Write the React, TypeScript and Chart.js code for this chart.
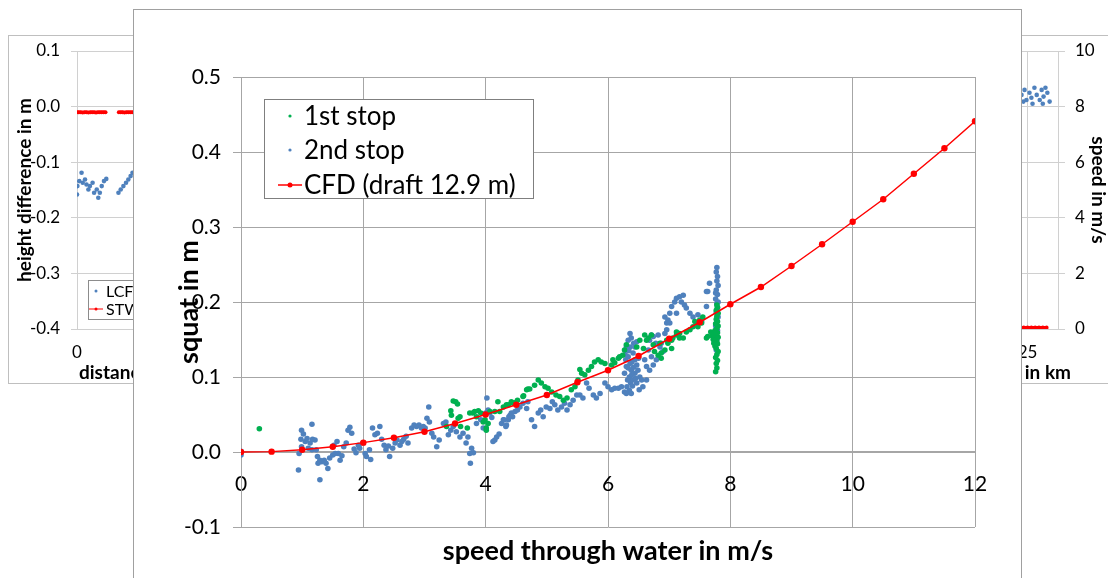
import React, { useEffect, useRef } from "react";
import { Chart, registerables } from "chart.js";
Chart.register(...registerables);

const FONT = "Lato, 'Liberation Sans', sans-serif";
const GREEN = "#00b050";
const BLUE = "#4f81bd";
const RED = "#ff0000";
const FG_GRID = "#a6a6a6";
const BG_GRID = "#d0d0d0";

// ---------- foreground chart data (speed through water in m/s, squat in m) ----------
const cfdSpeed = [0, 0.5, 1, 1.5, 2, 2.5, 3, 3.5, 4, 4.5, 5, 5.5, 6, 6.5, 7, 7.5, 8, 8.5, 9, 9.5, 10, 10.5, 11, 11.5, 12];
const cfdSquat = [0, 0.0005, 0.003, 0.007, 0.0125, 0.019, 0.027, 0.038, 0.05, 0.063, 0.076, 0.093, 0.109, 0.128, 0.151, 0.173, 0.197, 0.22, 0.248, 0.277, 0.307, 0.337, 0.371, 0.405, 0.441];

const stop1Points: [number, number][] = [
  [0.30, 0.031],
  [3.36, 0.034], [3.43, 0.055], [3.44, 0.049], [3.47, 0.068], [3.51, 0.067], [3.54, 0.064], [3.55, 0.045], [3.58, 0.047], [3.59, 0.034],
  [3.70, 0.032], [3.74, 0.052], [3.79, 0.052], [3.82, 0.054], [3.85, 0.047], [3.88, 0.055], [3.92, 0.052], [3.99, 0.043], [4.01, 0.032],
  [4.04, 0.038], [4.15, 0.054], [4.20, 0.067], [4.23, 0.054], [4.29, 0.060], [4.34, 0.063], [4.42, 0.067], [4.49, 0.066], [4.52, 0.069],
  [4.62, 0.075], [4.69, 0.084], [3.96, 0.040], [4.01, 0.029], [4.07, 0.054], [4.37, 0.063], [4.45, 0.065], [4.61, 0.074], [4.67, 0.083],
  [4.72, 0.084], [4.80, 0.089], [4.86, 0.096], [4.91, 0.092], [4.97, 0.087], [5.02, 0.085], [5.08, 0.080], [5.15, 0.076], [5.21, 0.074],
  [5.27, 0.069], [5.33, 0.072], [5.40, 0.083], [5.46, 0.087], [5.51, 0.096], [5.54, 0.110], [5.57, 0.105], [5.62, 0.103], [5.68, 0.109],
  [5.73, 0.114], [5.78, 0.120], [5.84, 0.123], [5.89, 0.120], [5.95, 0.118], [6.06, 0.116], [6.11, 0.119], [6.17, 0.125], [6.24, 0.129],
  [6.27, 0.136], [6.30, 0.143], [6.47, 0.140], [6.52, 0.149], [6.60, 0.156], [6.66, 0.152], [6.74, 0.143], [6.76, 0.134], [6.82, 0.129],
  [6.87, 0.125], [6.93, 0.136], [6.98, 0.145], [7.04, 0.138], [7.06, 0.152], [7.12, 0.156], [7.17, 0.158], [7.23, 0.152], [7.28, 0.160],
  [7.34, 0.163], [7.39, 0.167], [7.45, 0.172], [7.50, 0.176], [7.55, 0.180],
  [6.08, 0.123], [6.19, 0.127], [6.58, 0.138], [6.63, 0.149], [6.71, 0.156], [6.85, 0.145], [6.87, 0.132], [6.96, 0.149], [7.04, 0.149],
  [7.12, 0.160], [7.17, 0.152], [7.42, 0.174], [7.47, 0.167], [7.53, 0.172], [7.61, 0.152], [7.63, 0.154],
  [7.76, 0.107], [7.78, 0.112], [7.77, 0.118], [7.79, 0.122], [7.76, 0.126], [7.78, 0.130], [7.80, 0.134], [7.77, 0.138], [7.75, 0.141],
  [7.79, 0.144], [7.78, 0.147], [7.76, 0.150], [7.80, 0.153], [7.77, 0.156], [7.79, 0.159], [7.75, 0.162], [7.78, 0.165], [7.80, 0.168],
  [7.76, 0.171], [7.79, 0.174], [7.77, 0.177], [7.78, 0.181], [7.80, 0.185], [7.77, 0.189], [7.79, 0.193], [7.78, 0.196], [7.72, 0.150],
  [7.70, 0.155], [7.68, 0.160], [7.73, 0.145], [7.74, 0.158],
];

const stop2Points: [number, number][] = [
  [0.00, -0.004], [0.00, 0.001],
  [0.99, 0.029], [1.02, 0.024], [0.98, 0.017], [1.05, 0.014], [0.99, 0.007], [0.95, -0.002], [0.94, -0.024], [1.08, 0.018], [1.13, 0.012],
  [1.16, 0.037], [1.17, 0.017], [1.21, 0.016], [1.10, 0.005], [1.16, 0.003], [1.23, 0.003], [1.25, -0.006], [1.29, -0.011], [1.26, -0.015],
  [1.32, -0.013], [1.36, -0.011], [1.39, -0.015], [1.42, -0.022], [1.45, -0.008], [1.50, -0.004], [1.54, -0.002], [1.52, 0.009], [1.57, 0.014],
  [1.59, -0.002], [1.62, -0.011], [1.65, -0.005], [1.68, 0.007], [1.72, 0.012], [1.75, 0.029], [1.78, 0.033], [1.81, 0.025], [1.85, 0.004],
  [1.88, -0.001], [1.92, 0.009], [1.94, 0.005], [1.99, 0.012], [2.03, -0.002], [2.05, -0.006], [2.10, 0.003], [2.12, -0.010], [2.15, 0.032],
  [2.19, 0.023], [2.23, 0.025], [2.27, 0.034], [2.30, 0.017], [2.34, 0.009], [2.37, 0.003], [2.41, 0.008], [2.43, -0.006], [2.48, 0.005],
  [2.52, 0.012], [2.55, 0.016], [2.60, 0.009], [2.63, 0.014], [2.66, 0.017], [2.70, 0.021], [2.73, 0.012], [2.79, 0.032], [2.83, 0.036],
  [2.87, 0.034], [2.91, 0.036], [2.95, 0.032], [2.98, 0.034], [3.01, 0.032], [3.04, 0.045], [3.08, 0.040], [3.07, 0.060], [3.12, 0.025],
  [3.15, 0.020], [3.20, 0.007], [3.24, 0.016], [3.31, 0.038], [3.35, 0.040], [3.39, 0.023], [3.43, 0.029], [3.47, 0.034], [3.52, 0.027],
  [3.58, 0.020], [3.63, 0.025], [3.68, 0.012], [3.71, 0.020], [3.74, -0.002], [3.77, 0.005], [3.80, -0.001], [3.75, -0.015], [3.85, 0.038],
  [3.92, 0.043], [3.96, 0.032], [4.02, 0.072], [4.04, 0.056], [4.07, 0.052], [4.10, 0.046], [4.15, 0.016], [4.18, 0.020], [4.22, 0.024],
  [4.26, 0.038], [4.29, 0.043], [4.33, 0.034], [4.37, 0.043], [4.40, 0.049], [4.44, 0.047], [4.48, 0.054], [4.52, 0.056], [4.56, 0.060],
  [4.61, 0.065], [4.67, 0.058], [1.29, -0.037],
  [4.00, 0.052], [4.12, 0.014], [4.30, 0.043], [4.34, 0.036], [4.38, 0.047], [4.42, 0.052], [4.69, 0.067], [4.75, 0.043], [4.80, 0.034],
  [4.86, 0.052], [4.90, 0.056], [4.94, 0.047], [4.99, 0.060], [5.05, 0.058], [5.09, 0.067], [5.13, 0.063], [5.18, 0.056], [5.24, 0.060],
  [5.29, 0.065], [5.33, 0.056], [5.38, 0.063], [5.43, 0.069], [5.49, 0.076], [5.54, 0.076], [5.59, 0.072], [5.65, 0.092], [5.69, 0.085],
  [5.76, 0.076], [5.81, 0.072], [5.87, 0.078], [5.95, 0.092], [6.00, 0.087], [6.06, 0.083], [6.11, 0.085], [6.17, 0.085], [6.22, 0.087],
  [6.27, 0.080], [6.30, 0.078],
  [6.30, 0.140], [6.33, 0.149], [6.36, 0.158], [6.38, 0.152], [6.33, 0.127], [6.36, 0.118], [6.38, 0.109], [6.41, 0.132], [6.44, 0.123],
  [6.35, 0.100], [6.37, 0.092], [6.40, 0.096], [6.44, 0.105], [6.47, 0.116], [6.49, 0.109], [6.52, 0.100], [6.55, 0.096], [6.57, 0.087],
  [6.47, 0.092], [6.51, 0.083], [6.30, 0.114], [6.27, 0.105], [6.31, 0.087], [6.29, 0.123], [6.44, 0.140], [6.47, 0.147], [6.34, 0.135],
  [6.39, 0.120], [6.42, 0.113], [6.32, 0.096], [6.35, 0.082], [6.38, 0.078], [6.40, 0.088], [6.45, 0.098], [6.50, 0.125], [6.42, 0.145],
  [6.36, 0.140], [6.33, 0.112], [6.39, 0.103], [6.28, 0.130],
  [6.60, 0.123], [6.63, 0.114], [6.66, 0.136], [6.68, 0.149], [6.71, 0.156], [6.74, 0.154], [6.78, 0.145], [6.82, 0.156], [6.85, 0.140],
  [6.87, 0.145], [6.90, 0.134], [6.93, 0.158], [6.96, 0.172], [6.98, 0.176], [7.01, 0.185], [7.04, 0.194], [7.09, 0.200], [7.12, 0.205],
  [7.17, 0.207], [7.23, 0.209], [7.20, 0.200], [7.25, 0.196], [7.28, 0.192], [7.34, 0.185], [7.39, 0.180], [7.47, 0.183], [7.53, 0.174],
  [7.61, 0.194], [7.63, 0.214], [6.93, 0.180], [6.96, 0.163], [7.12, 0.185], [7.01, 0.172], [6.71, 0.127], [6.68, 0.109], [6.63, 0.096],
  [6.79, 0.123], [6.74, 0.116], [7.61, 0.214], [7.66, 0.225],
  [7.78, 0.150], [7.77, 0.156], [7.79, 0.162], [7.76, 0.168], [7.78, 0.174], [7.80, 0.180], [7.77, 0.186], [7.79, 0.192], [7.78, 0.198],
  [7.76, 0.204], [7.79, 0.210], [7.77, 0.216], [7.80, 0.222], [7.78, 0.228], [7.79, 0.234], [7.77, 0.240], [7.78, 0.246], [7.76, 0.212],
  [7.80, 0.200], [7.77, 0.136],
];

// ---------- background chart data (distance in km) ----------
const lcfPoints: [number, number][] = [
  [0.00, -0.158], [0.01, -0.143], [0.06, -0.134], [0.12, -0.119], [0.15, -0.137], [0.21, -0.131], [0.25, -0.140], [0.30, -0.149],
  [0.34, -0.143], [0.41, -0.137], [0.45, -0.155], [0.52, -0.149], [0.56, -0.164], [0.60, -0.155], [0.65, -0.143], [0.71, -0.134],
  [0.77, -0.130],
  [1.09, -0.155], [1.15, -0.149], [1.22, -0.143], [1.29, -0.137], [1.35, -0.131], [1.41, -0.125], [1.46, -0.119],
  [24.84, 0.021], [24.92, 0.030], [24.97, 0.012], [25.05, 0.025], [25.10, 0.016], [25.18, 0.034], [25.24, 0.021], [25.32, 0.012],
  [25.37, 0.030], [25.42, 0.018], [25.47, 0.034], [25.52, 0.025], [25.58, 0.009], [24.89, 0.009], [25.13, 0.005], [25.40, 0.005],
];
const stwDistance = [0, 0.05, 0.1, 0.15, 0.2, 0.25, 0.3, 0.35, 0.4, 0.45, 0.5, 0.55, 0.6, 0.65, 0.7, 0.75, 0.9, 1.1, 1.15, 1.2, 1.25, 1.3, 1.35, 1.4, 1.45, 1.5, 1.55, 1.6, 24.8, 24.9, 25.0, 25.1, 25.2, 25.3, 25.4, 25.5];
const stwSpeed: (number | null)[] = [7.8, 7.8, 7.8, 7.79, 7.8, 7.8, 7.79, 7.8, 7.8, 7.8, 7.79, 7.8, 7.8, 7.8, 7.8, 7.8, null, 7.8, 7.8, 7.8, 7.79, 7.8, 7.8, 7.8, 7.8, 7.8, 7.8, 7.8, 0.05, 0.05, 0.05, 0.05, 0.05, 0.05, 0.05, 0.05];

const bgTitleStart = "distance";
const bgTitleEnd = "in km";

const fmt1 = (v: any) => {
  const n = Number(v);
  return (Math.abs(n) < 1e-9 ? 0 : n).toFixed(1);
};

const fgLegendPlugin = {
  id: "fgLegend",
  afterDraw(chart: any) {
    const { ctx, chartArea } = chart;
    const bx = chartArea.left + 23;
    const by = chartArea.top + 22;
    const bw = 269;
    const bh = 99;
    const rows = [17, 51, 86];
    ctx.save();
    ctx.fillStyle = "#ffffff";
    ctx.fillRect(bx, by, bw, bh);
    ctx.strokeStyle = "#7f7f7f";
    ctx.lineWidth = 1;
    ctx.strokeRect(bx + 0.5, by + 0.5, bw, bh);
    chart.data.datasets.forEach((ds: any, i: number) => {
      const cy = by + rows[i];
      const cx = bx + 26;
      if (ds.showLine) {
        ctx.strokeStyle = ds.borderColor;
        ctx.lineWidth = 1.5;
        ctx.beginPath();
        ctx.moveTo(cx - 12, cy);
        ctx.lineTo(cx + 12, cy);
        ctx.stroke();
      }
      ctx.fillStyle = ds.backgroundColor;
      ctx.beginPath();
      ctx.arc(cx, cy, ds.showLine ? 2.5 : 1.6, 0, Math.PI * 2);
      ctx.fill();
      ctx.fillStyle = "#000";
      ctx.font = `26px ${FONT}`;
      ctx.textBaseline = "middle";
      ctx.textAlign = "left";
      ctx.fillText(ds.label, bx + 40, cy + 1);
    });
    ctx.restore();
  },
};

const bgExtrasPlugin = {
  id: "bgExtras",
  afterDraw(chart: any) {
    const { ctx, chartArea } = chart;
    ctx.save();
    ctx.fillStyle = "#000";
    ctx.font = `bold 19px ${FONT}`;
    ctx.textBaseline = "middle";
    ctx.textAlign = "left";
    ctx.fillText(bgTitleStart, chartArea.left + 2, chartArea.bottom + 44);
    ctx.textAlign = "right";
    ctx.fillText(bgTitleEnd, chartArea.right + 13, chartArea.bottom + 44);
    const bx = chartArea.left + 11;
    const by = chartArea.top + 229;
    const bw = 140;
    const bh = 39;
    ctx.fillStyle = "#fff";
    ctx.fillRect(bx, by, bw, bh);
    ctx.strokeStyle = "#8c8c8c";
    ctx.lineWidth = 1;
    ctx.strokeRect(bx + 0.5, by + 0.5, bw, bh);
    const rows = [11, 29];
    chart.data.datasets.forEach((ds: any, i: number) => {
      const cy = by + rows[i];
      const cx = bx + 8;
      if (ds.showLine) {
        ctx.strokeStyle = ds.borderColor;
        ctx.lineWidth = 1;
        ctx.beginPath();
        ctx.moveTo(cx - 7, cy);
        ctx.lineTo(cx + 7, cy);
        ctx.stroke();
      }
      ctx.fillStyle = ds.backgroundColor;
      ctx.beginPath();
      ctx.arc(cx, cy, 1.5, 0, Math.PI * 2);
      ctx.fill();
      ctx.fillStyle = "#000";
      ctx.font = `16px ${FONT}`;
      ctx.textAlign = "left";
      ctx.textBaseline = "middle";
      ctx.fillText(ds.label, bx + 18, cy + 1);
    });
    ctx.restore();
  },
};

const noPad = (s: any) => {
  s.paddingTop = 0;
  s.paddingBottom = 0;
};

export default function App() {
  const bgRef = useRef<HTMLCanvasElement | null>(null);
  const fgRef = useRef<HTMLCanvasElement | null>(null);

  useEffect(() => {
    const bg = new Chart(bgRef.current as HTMLCanvasElement, {
      type: "scatter",
      data: {
        datasets: [
          {
            label: "LCF",
            data: lcfPoints.map(([x, y]) => ({ x, y })),
            backgroundColor: BLUE,
            borderColor: BLUE,
            pointRadius: 2.3,
            pointBorderWidth: 0,
            yAxisID: "y",
          },
          {
            label: "STW",
            data: stwDistance.map((x, i) => ({ x, y: stwSpeed[i] })),
            showLine: true,
            spanGaps: false,
            backgroundColor: RED,
            borderColor: RED,
            borderWidth: 3,
            pointRadius: 2,
            pointBorderWidth: 0,
            yAxisID: "y2",
          },
        ],
      } as any,
      options: {
        animation: false,
        responsive: false,
        devicePixelRatio: 1,
        events: [],
        layout: { padding: { left: 0, top: 15, right: 12, bottom: 0 } },
        plugins: { legend: { display: false }, tooltip: { enabled: false } },
        scales: {
          x: {
            type: "linear",
            min: 0,
            max: 25.8,
            position: "bottom",
            ticks: { stepSize: 5, includeBounds: false, color: "#000", font: { family: FONT, size: 17 }, padding: 13 },
            grid: { color: BG_GRID, drawTicks: false },
            border: { color: BG_GRID },
            afterFit: (s: any) => { s.height = 53; },
          },
          y: {
            type: "linear",
            min: -0.4,
            max: 0.1,
            position: "left",
            ticks: { stepSize: 0.1, color: "#000", font: { family: FONT, size: 17 }, padding: 11, callback: fmt1 },
            grid: { color: BG_GRID, tickLength: 6 },
            border: { color: BG_GRID },
            title: { display: true, text: "height difference in m", color: "#000", font: { family: FONT, size: 19, weight: "bold" }, padding: { top: 4, bottom: 0 } },
            afterFit: (s: any) => { s.width = 68; noPad(s); },
          },
          y2: {
            type: "linear",
            min: 0,
            max: 10,
            position: "right",
            ticks: { stepSize: 2, color: "#000", font: { family: FONT, size: 17 }, padding: 10 },
            grid: { color: BG_GRID, drawOnChartArea: false, tickLength: 7 },
            border: { color: BG_GRID },
            title: { display: true, text: "speed in m/s", color: "#000", font: { family: FONT, size: 19, weight: "bold" }, padding: { top: 8, bottom: 0 } },
            afterFit: (s: any) => { s.width = 60; noPad(s); },
          },
        },
      } as any,
      plugins: [bgExtrasPlugin],
    });

    const fg = new Chart(fgRef.current as HTMLCanvasElement, {
      type: "scatter",
      data: {
        datasets: [
          {
            label: "1st stop",
            data: stop1Points.map(([x, y]) => ({ x, y })),
            backgroundColor: GREEN,
            borderColor: GREEN,
            pointRadius: 2.8,
            pointBorderWidth: 0,
            order: 1,
          },
          {
            label: "2nd stop",
            data: stop2Points.map(([x, y]) => ({ x, y })),
            backgroundColor: BLUE,
            borderColor: BLUE,
            pointRadius: 2.8,
            pointBorderWidth: 0,
            order: 2,
          },
          {
            label: "CFD (draft 12.9 m)",
            data: cfdSpeed.map((x, i) => ({ x, y: cfdSquat[i] })),
            showLine: true,
            backgroundColor: RED,
            borderColor: RED,
            borderWidth: 1.5,
            pointRadius: 3.2,
            pointBorderWidth: 0,
            order: 0,
          },
        ],
      } as any,
      options: {
        animation: false,
        responsive: false,
        devicePixelRatio: 1,
        events: [],
        layout: { padding: { left: 0, top: 67, right: 45, bottom: 0 } },
        plugins: {
          legend: { display: false },
          tooltip: { enabled: false },
          title: {
            display: true,
            position: "bottom",
            fullSize: false,
            text: "speed through water in m/s",
            color: "#000",
            font: { family: FONT, size: 27, weight: "bold" },
            padding: { top: 8, bottom: 10.6 },
          },
        },
        scales: {
          x: {
            type: "linear",
            min: 0,
            max: 12,
            position: { y: 0 },
            ticks: { stepSize: 2, color: "#000", font: { family: FONT, size: 21 }, padding: 20 },
            grid: { color: FG_GRID, drawTicks: false },
            border: { color: FG_GRID },
          },
          y: {
            type: "linear",
            min: -0.1,
            max: 0.5,
            position: "left",
            ticks: { stepSize: 0.1, color: "#000", font: { family: FONT, size: 21 }, padding: 12, callback: fmt1 },
            grid: { color: FG_GRID, tickLength: 8 },
            border: { color: FG_GRID },
            title: { display: true, text: "squat in m", color: "#000", font: { family: FONT, size: 27, weight: "bold" }, padding: { top: 39, bottom: 0 } },
            afterFit: (s: any) => { s.width = 107; },
          },
        },
      } as any,
      plugins: [fgLegendPlugin],
    });

    return () => {
      bg.destroy();
      fg.destroy();
    };
  }, []);

  return (
    <div style={{ position: "fixed", left: 0, top: 0, width: 1108, height: 578, overflow: "hidden", background: "#fff" }}>
      <div style={{ position: "absolute", left: 8, top: 35, width: 1130, height: 347, border: "1px solid #bfbfbf", background: "#fff" }}>
        <canvas ref={bgRef} width={1121} height={346} style={{ position: "absolute", left: 0, top: 0, width: 1121, height: 346 }} />
      </div>
      <div style={{ position: "absolute", left: 133, top: 9, width: 887, height: 600, border: "1px solid #a0a0a0", background: "#fff" }}>
        <canvas ref={fgRef} width={886} height={568} style={{ position: "absolute", left: 0, top: 0, width: 886, height: 568 }} />
      </div>
    </div>
  );
}
